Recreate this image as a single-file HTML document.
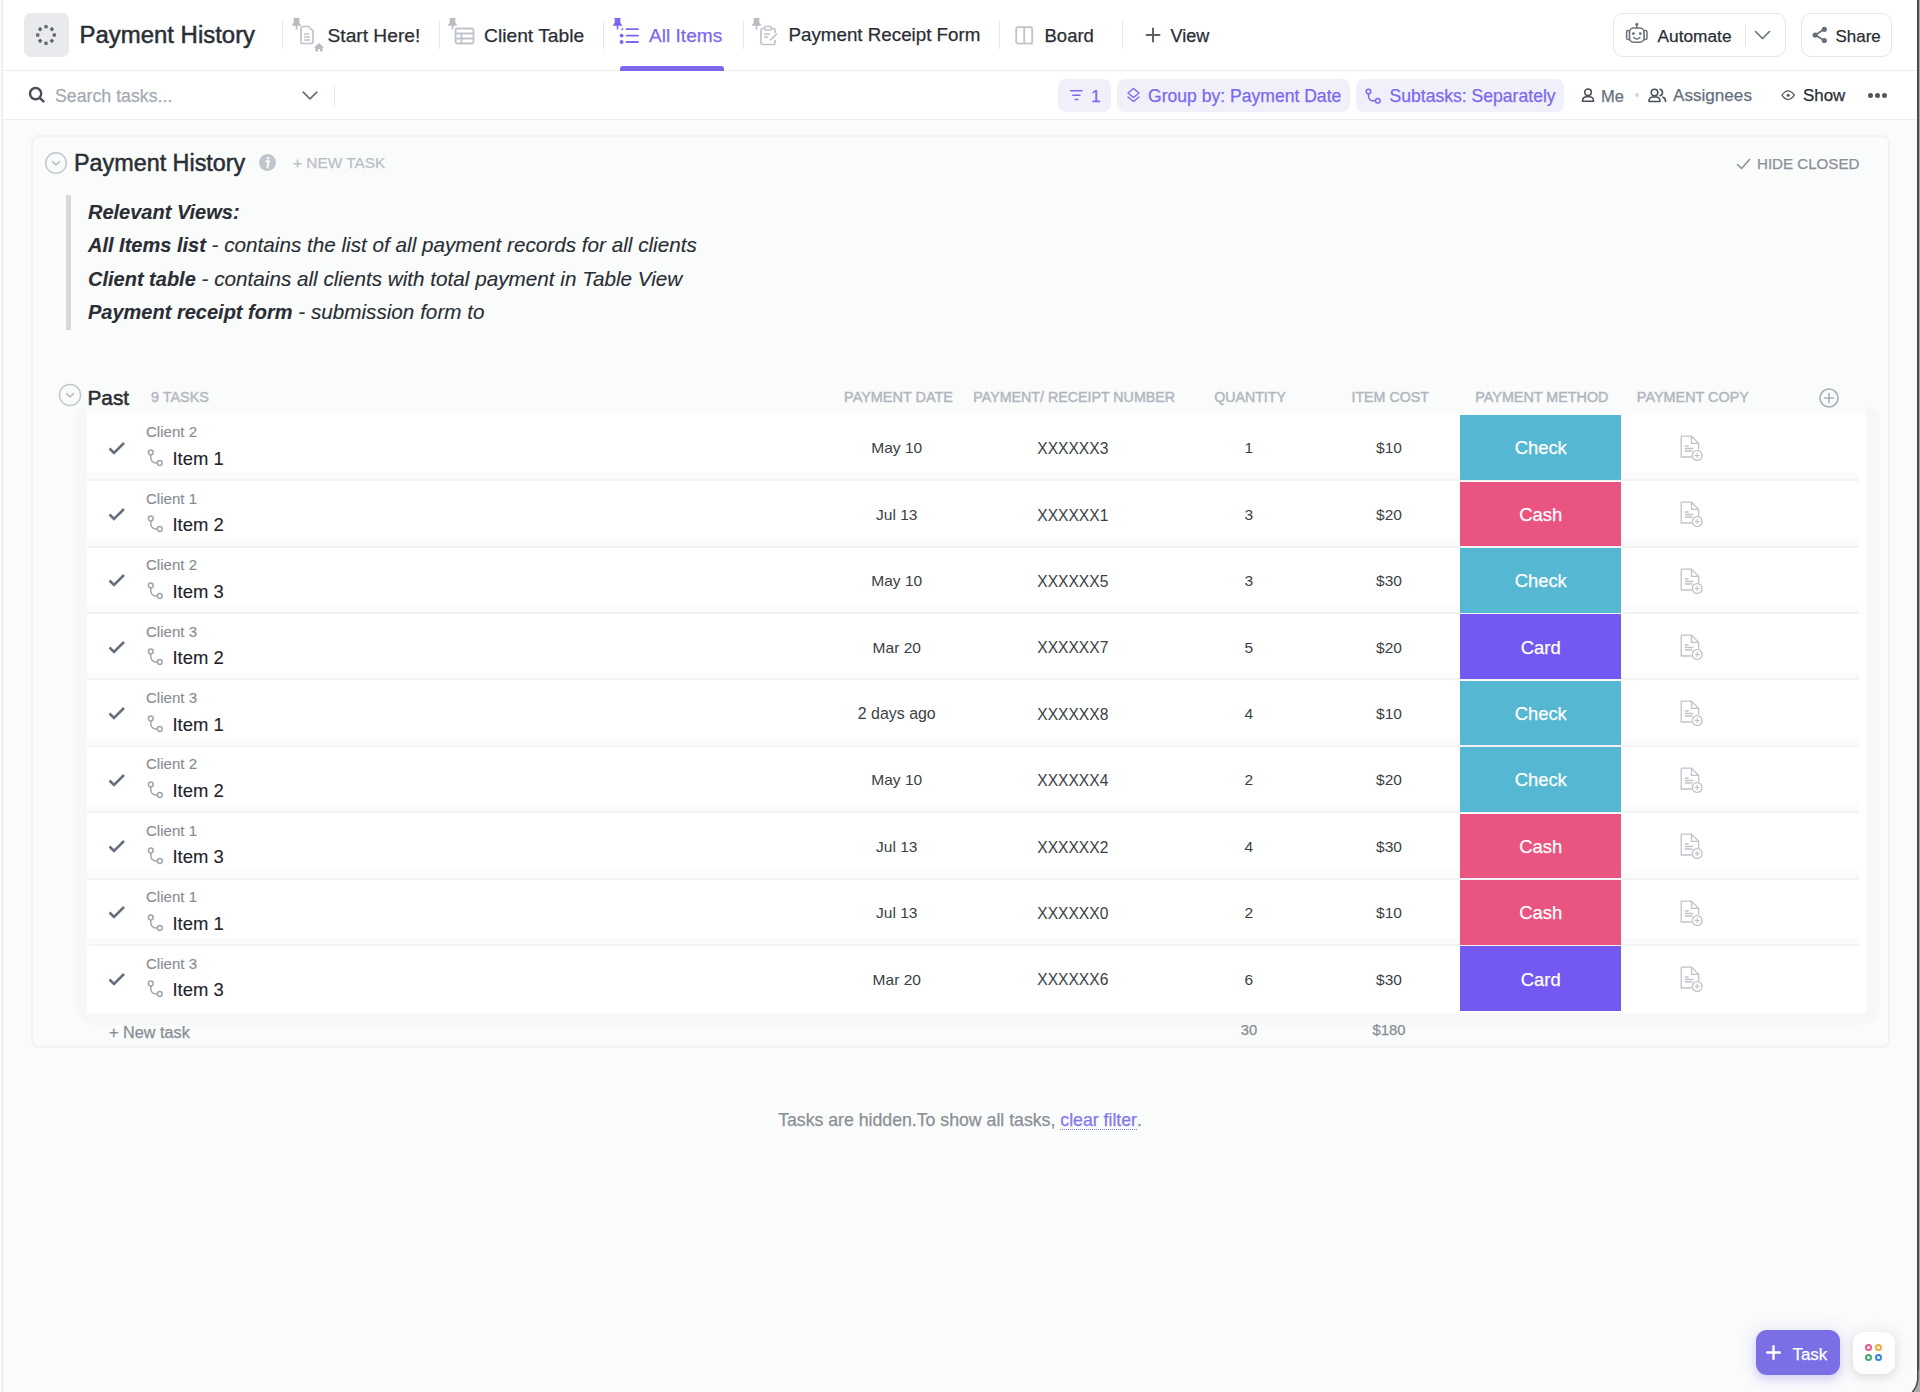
<!DOCTYPE html>
<html><head><meta charset="utf-8"><style>
html,body{margin:0;padding:0;}
body{width:1920px;height:1392px;position:relative;overflow:hidden;background:#fafbfb;font-family:"Liberation Sans", sans-serif;}
.a{position:absolute;}
.t.ns{-webkit-text-stroke:0;}
.t.s1{-webkit-text-stroke:0.12px currentColor;}
.t{position:absolute;white-space:nowrap;line-height:1;-webkit-text-stroke:0.25px currentColor;}
</style></head><body>
<div class="a" style="left:0.00px;top:0.00px;width:1920.00px;height:70.00px;background:#fff;"></div>
<div class="a" style="left:0.00px;top:70.00px;width:1920.00px;height:1.20px;background:#eceef1;"></div>
<div class="a" style="left:0.00px;top:71.20px;width:1920.00px;height:48.00px;background:#fff;"></div>
<div class="a" style="left:0.00px;top:119.00px;width:1920.00px;height:1.20px;background:#eceef1;"></div>
<div class="a" style="left:0.00px;top:0.00px;width:1.50px;height:1392.00px;background:#fff;"></div>
<div class="a" style="left:1.20px;top:0.00px;width:1.90px;height:1392.00px;background:#eceef2;"></div>
<div class="a" style="left:1917.00px;top:0.00px;width:1.50px;height:1392.00px;background:#4a4a4a;"></div>
<div class="a" style="left:1918.50px;top:0.00px;width:1.50px;height:1392.00px;background:#aaa;"></div>
<div class="a" style="left:24.00px;top:12.60px;width:44.50px;height:44.60px;background:#e9eaed;border-radius:7px;"></div>
<svg class="a" style="left:34.20px;top:22.80px;" width="24" height="24" viewBox="0 0 24 24" fill="none"><rect x="10.4" y="2.1" width="3.2" height="3.2" fill="#5f646c" transform="rotate(0 12 12)"/><rect x="10.4" y="2.1" width="3.2" height="3.2" fill="#5f646c" transform="rotate(45 12 12)"/><rect x="10.4" y="2.1" width="3.2" height="3.2" fill="#5f646c" transform="rotate(90 12 12)"/><rect x="10.4" y="2.1" width="3.2" height="3.2" fill="#5f646c" transform="rotate(135 12 12)"/><rect x="10.4" y="2.1" width="3.2" height="3.2" fill="#5f646c" transform="rotate(180 12 12)"/><rect x="10.4" y="2.1" width="3.2" height="3.2" fill="#5f646c" transform="rotate(225 12 12)"/><rect x="10.4" y="2.1" width="3.2" height="3.2" fill="#5f646c" transform="rotate(270 12 12)"/><rect x="10.4" y="2.1" width="3.2" height="3.2" fill="#5f646c" transform="rotate(315 12 12)"/></svg>
<div class="t " style="left:79.50px;top:23.33px;font-size:23.95px;color:#2a2e34;-webkit-text-stroke:0.5px #2a2e34;">Payment History</div>
<div class="a" style="left:281.70px;top:21.00px;width:1.20px;height:28.00px;background:#e4e6ea;"></div>
<div class="a" style="left:438.50px;top:21.00px;width:1.20px;height:28.00px;background:#e4e6ea;"></div>
<div class="a" style="left:602.60px;top:21.00px;width:1.20px;height:28.00px;background:#e4e6ea;"></div>
<div class="a" style="left:742.70px;top:21.00px;width:1.20px;height:28.00px;background:#e4e6ea;"></div>
<div class="a" style="left:999.00px;top:21.00px;width:1.20px;height:28.00px;background:#e4e6ea;"></div>
<div class="a" style="left:1122.00px;top:21.00px;width:1.20px;height:28.00px;background:#e4e6ea;"></div>
<svg class="a" style="left:292.00px;top:18.00px;" width="9" height="12" viewBox="0 0 9 12" fill="none"><path d="M1.5 0.5h6M2.5 0.5v4.5l-1.5 2h7l-1.5-2v-4.5M4.5 7v4.5" stroke="#b7bbc2" stroke-width="1.6" fill="#b7bbc2"/></svg>
<svg class="a" style="left:299.00px;top:25.00px;" width="17" height="20" viewBox="0 0 17 20" fill="none"><path d="M2 3.5a2 2 0 0 1 2-2h5.5l4.5 4.5v10.5a2 2 0 0 1-2 2H4a2 2 0 0 1-2-2z" stroke="#bfc3ca" stroke-width="1.7"/><path d="M5 9h5M5 12h6M5 15h6" stroke="#bfc3ca" stroke-width="1.7"/></svg>
<svg class="a" style="left:313.00px;top:42.00px;" width="12" height="10" viewBox="0 0 12 10" fill="none"><path d="M6 1L1 5.5h1.5V9.5h2.5V7h2v2.5h2.5V5.5H11z" fill="#b7bbc2"/></svg>
<div class="t " style="left:327.50px;top:25.55px;font-size:19.2px;color:#2a2e34;">Start Here!</div>
<svg class="a" style="left:448.00px;top:18.00px;" width="9" height="12" viewBox="0 0 9 12" fill="none"><path d="M1.5 0.5h6M2.5 0.5v4.5l-1.5 2h7l-1.5-2v-4.5M4.5 7v4.5" stroke="#b7bbc2" stroke-width="1.6" fill="#b7bbc2"/></svg>
<svg class="a" style="left:454.00px;top:27.00px;" width="21" height="18" viewBox="0 0 21 18" fill="none"><rect x="1.5" y="1.5" width="18" height="15" rx="2" stroke="#bfc3ca" stroke-width="1.8"/><path d="M1.5 6.5h18M1.5 11.5h18M7.5 6.5v10" stroke="#bfc3ca" stroke-width="1.8"/></svg>
<div class="t " style="left:484.00px;top:25.70px;font-size:19.25px;color:#2a2e34;">Client Table</div>
<svg class="a" style="left:613.00px;top:18.00px;" width="9" height="12" viewBox="0 0 9 12" fill="none"><path d="M1.5 0.5h6M2.5 0.5v4.5l-1.5 2h7l-1.5-2v-4.5M4.5 7v4.5" stroke="#7b68ee" stroke-width="1.6" fill="#7b68ee"/></svg>
<svg class="a" style="left:618.50px;top:26.50px;" width="21" height="18" viewBox="0 0 21 18" fill="none"><circle cx="2.6" cy="8.6" r="1.95" fill="#7b68ee"/><circle cx="2.6" cy="15" r="1.95" fill="#7b68ee"/><path d="M7.6 2.2h11.4M7.6 8.6h11.4M7.6 15h11.4" stroke="#7b68ee" stroke-width="1.8" stroke-linecap="round"/><path d="M2.3 3l2-1.4" stroke="#7b68ee" stroke-width="1.2"/></svg>
<div class="t " style="left:649.00px;top:25.83px;font-size:19.1px;color:#7b68ee;">All Items</div>
<div class="a" style="left:620.00px;top:66.00px;width:104.00px;height:4.50px;background:#7b68ee;border-radius:3px 3px 0 0;"></div>
<svg class="a" style="left:752.00px;top:18.00px;" width="9" height="12" viewBox="0 0 9 12" fill="none"><path d="M1.5 0.5h6M2.5 0.5v4.5l-1.5 2h7l-1.5-2v-4.5M4.5 7v4.5" stroke="#b7bbc2" stroke-width="1.6" fill="#b7bbc2"/></svg>
<svg class="a" style="left:759.00px;top:25.00px;" width="20" height="21" viewBox="0 0 20 21" fill="none"><path d="M13 3.5h1.5a1.5 1.5 0 0 1 1.5 1.5v3M5 3.5H3.5A1.5 1.5 0 0 0 2 5v13a1.5 1.5 0 0 0 1.5 1.5h11A1.5 1.5 0 0 0 16 18v-3" stroke="#bfc3ca" stroke-width="1.7"/><rect x="5.5" y="1.5" width="7" height="3.5" rx="1" stroke="#bfc3ca" stroke-width="1.5"/><path d="M5 9h6M5 12h4M11 15.5l7-7" stroke="#bfc3ca" stroke-width="1.7"/></svg>
<div class="t " style="left:788.50px;top:26.10px;font-size:18.78px;color:#2a2e34;">Payment Receipt Form</div>
<svg class="a" style="left:1015.00px;top:26.00px;" width="19" height="19" viewBox="0 0 19 19" fill="none"><rect x="1.2" y="1.2" width="16" height="16.5" rx="2" stroke="#bfc3ca" stroke-width="1.8"/><path d="M9.2 1.2v16.5" stroke="#bfc3ca" stroke-width="1.8"/></svg>
<div class="t " style="left:1044.50px;top:27.34px;font-size:18.5px;color:#2a2e34;">Board</div>
<svg class="a" style="left:1145.00px;top:27.00px;" width="16" height="16" viewBox="0 0 16 16" fill="none"><path d="M8 1.5v13M1.5 8h13" stroke="#5d6168" stroke-width="2" stroke-linecap="round"/></svg>
<div class="t " style="left:1170.50px;top:26.76px;font-size:18.0px;color:#2a2e34;">View</div>
<div class="a" style="left:1613.30px;top:12.80px;width:172.30px;height:43.80px;box-sizing:border-box;border:1.5px solid #e4e6ea;border-radius:10px;background:#fff;"></div>
<svg class="a" style="left:1620.00px;top:18.00px;" width="30" height="30" viewBox="0 0 30 30" fill="none"><rect x="9.5" y="10" width="14.6" height="14.2" rx="4.2" stroke="#6c7179" stroke-width="1.65"/><path d="M16.8 10V7" stroke="#6c7179" stroke-width="1.5"/><circle cx="16.8" cy="6.3" r="1.5" fill="#6c7179"/><path d="M9.5 12.5H8.2a1.6 1.6 0 0 0-1.6 1.6v5.9a1.6 1.6 0 0 0 1.6 1.6H9.5M24.1 12.5h1.3a1.6 1.6 0 0 1 1.6 1.6v5.9a1.6 1.6 0 0 1-1.6 1.6H24.1" stroke="#6c7179" stroke-width="1.5"/><circle cx="13.4" cy="15.6" r="1.45" fill="#6c7179"/><circle cx="20.3" cy="15.6" r="1.45" fill="#6c7179"/><path d="M13.8 19.4c1.6 2.2 4.4 2.2 6 0" stroke="#6c7179" stroke-width="1.5" stroke-linecap="round"/></svg>
<div class="t " style="left:1657.50px;top:28.05px;font-size:17.31px;color:#2a2e34;">Automate</div>
<div class="a" style="left:1744.50px;top:24.50px;width:1.20px;height:21.00px;background:#e4e6ea;"></div>
<svg class="a" style="left:1754.00px;top:30.00px;" width="17" height="10" viewBox="0 0 17 10" fill="none"><path d="M1.5 1.5l7 7 7-7" stroke="#656f7d" stroke-width="1.6" stroke-linecap="round" stroke-linejoin="round"/></svg>
<div class="a" style="left:1800.50px;top:12.80px;width:91.40px;height:43.80px;box-sizing:border-box;border:1.5px solid #e4e6ea;border-radius:10px;background:#fff;"></div>
<svg class="a" style="left:1812.00px;top:26.00px;" width="16" height="18" viewBox="0 0 16 18" fill="none"><circle cx="3.2" cy="9" r="2.6" fill="#656f7d"/><circle cx="12.3" cy="3.3" r="2.6" fill="#656f7d"/><circle cx="12.3" cy="14.5" r="2.6" fill="#656f7d"/><path d="M3.2 9l9-5.7M3.2 9l9 5.5" stroke="#656f7d" stroke-width="1.6"/></svg>
<div class="t " style="left:1835.50px;top:29.15px;font-size:16.95px;color:#2a2e34;">Share</div>
<svg class="a" style="left:28.00px;top:86.00px;" width="18" height="18" viewBox="0 0 18 18" fill="none"><circle cx="7.6" cy="7.6" r="5.6" stroke="#4a4f57" stroke-width="2.4"/><path d="M11.8 11.8l3.6 3.6" stroke="#4a4f57" stroke-width="2.5" stroke-linecap="round"/></svg>
<div class="t " style="left:55.00px;top:88.17px;font-size:17.75px;color:#a5aab2;">Search tasks...</div>
<svg class="a" style="left:300.50px;top:90.00px;" width="18" height="12" viewBox="0 0 18 12" fill="none"><path d="M2.2 2.2l6.8 6.6 6.8-6.6" stroke="#656f7d" stroke-width="1.7" stroke-linecap="round" stroke-linejoin="round"/></svg>
<div class="a" style="left:334.00px;top:84.50px;width:1.20px;height:21.50px;background:#e4e6ea;"></div>
<div class="a" style="left:1057.80px;top:78.50px;width:53.20px;height:33.50px;background:#f0f0fb;border-radius:8px;"></div>
<svg class="a" style="left:1069.00px;top:89.00px;" width="15" height="12" viewBox="0 0 15 12" fill="none"><path d="M1.5 1.8h11.5M3.8 6.2h7.2M6.3 10.6h2.5" stroke="#7b68ee" stroke-width="1.5" stroke-linecap="round"/></svg>
<div class="t " style="left:1091.00px;top:88.47px;font-size:17.4px;color:#7b68ee;">1</div>
<div class="a" style="left:1117.20px;top:78.50px;width:233.00px;height:33.50px;background:#f0f0fb;border-radius:8px;"></div>
<svg class="a" style="left:1126.00px;top:87.00px;" width="15" height="17" viewBox="0 0 15 17" fill="none"><path d="M7.5 1.5l5.5 4.5-5.5 4.5-5.5-4.5z" stroke="#7b68ee" stroke-width="1.45" stroke-linejoin="round"/><path d="M2 10l5.5 4.5L13 10" stroke="#7b68ee" stroke-width="1.45" stroke-linejoin="round" stroke-linecap="round"/></svg>
<div class="t " style="left:1148.00px;top:88.33px;font-size:17.57px;color:#7b68ee;">Group by: Payment Date</div>
<div class="a" style="left:1355.50px;top:78.60px;width:208.30px;height:33.20px;background:#f0f0fb;border-radius:8px;"></div>
<svg class="a" style="left:1365.00px;top:88.00px;" width="16" height="16" viewBox="0 0 16 16" fill="none"><circle cx="3.5" cy="3.5" r="2.3" stroke="#7b68ee" stroke-width="1.5"/><circle cx="12.8" cy="12.8" r="2.3" stroke="#7b68ee" stroke-width="1.5"/><path d="M3.5 5.8v2.5a4.5 4.5 0 0 0 4.5 4.5h2.5" stroke="#7b68ee" stroke-width="1.5"/></svg>
<div class="t " style="left:1389.50px;top:88.31px;font-size:17.59px;color:#7b68ee;">Subtasks: Separately</div>
<svg class="a" style="left:1581.00px;top:88.00px;" width="14" height="14" viewBox="0 0 14 14" fill="none"><circle cx="7" cy="4.3" r="3.3" stroke="#4a4f57" stroke-width="1.6"/><path d="M1.5 13.2v-0.5a4 4 0 0 1 4-4h3a4 4 0 0 1 4 4v0.5z" stroke="#4a4f57" stroke-width="1.6" stroke-linejoin="round"/></svg>
<div class="t " style="left:1601.00px;top:87.93px;font-size:16.5px;color:#656f7d;">Me</div>
<div class="a" style="left:1634.70px;top:93.40px;width:4.00px;height:4.00px;background:#d4d7dc;border-radius:50%;"></div>
<svg class="a" style="left:1648.00px;top:88.00px;" width="19" height="15" viewBox="0 0 19 15" fill="none"><circle cx="6.5" cy="4.5" r="3.3" stroke="#4a4f57" stroke-width="1.6"/><path d="M1 13.5v-0.5a4 4 0 0 1 4-4h3a4 4 0 0 1 4 4v0.5z" stroke="#4a4f57" stroke-width="1.6" stroke-linejoin="round"/><path d="M12 1.3a3.3 3.3 0 0 1 0 6.4M15 9.2a4 4 0 0 1 2.5 3.8v0.5" stroke="#4a4f57" stroke-width="1.6" stroke-linecap="round"/></svg>
<div class="t " style="left:1673.00px;top:87.42px;font-size:17.11px;color:#656f7d;">Assignees</div>
<svg class="a" style="left:1780.50px;top:89.00px;" width="15" height="13" viewBox="0 0 15 13" fill="none"><path d="M0.9 6.2Q7.1 -2.6 13.4 6.2Q7.1 15 0.9 6.2Z" stroke="#55595f" stroke-width="1.25" stroke-linejoin="round"/><circle cx="7.2" cy="6.2" r="1.55" fill="#55595f"/></svg>
<div class="t " style="left:1803.00px;top:88.09px;font-size:16.9px;color:#2a2e34;">Show</div>
<div class="a" style="left:1867.80px;top:92.80px;width:5.00px;height:5.00px;background:#52565d;border-radius:50%;"></div>
<div class="a" style="left:1874.70px;top:92.80px;width:5.00px;height:5.00px;background:#52565d;border-radius:50%;"></div>
<div class="a" style="left:1881.60px;top:92.80px;width:5.00px;height:5.00px;background:#52565d;border-radius:50%;"></div>
<div class="a" style="left:30.60px;top:135.00px;width:1859.40px;height:913.00px;box-sizing:border-box;border:2px solid #f1f2f5;border-radius:8px;background:#fafbfb;"></div>
<svg class="a" style="left:44.00px;top:151.00px;" width="24" height="24" viewBox="0 0 24 24" fill="none"><circle cx="12" cy="12" r="10.3" stroke="#c5c9cf" stroke-width="1.5"/><path d="M8.5 10.5l3.5 3.5 3.5-3.5" stroke="#b4b9c1" stroke-width="1.5" stroke-linecap="round" stroke-linejoin="round"/></svg>
<div class="t " style="left:74.00px;top:152.43px;font-size:23.35px;color:#2a2e34;-webkit-text-stroke:0.5px #2a2e34;">Payment History</div>
<svg class="a" style="left:258.00px;top:152.80px;" width="19" height="19" viewBox="0 0 19 19" fill="none"><circle cx="9.5" cy="9.5" r="8.5" fill="#c2c6cc"/><circle cx="10.2" cy="5.3" r="1.3" fill="#fff"/><path d="M8.3 8.3h2.4l-1.2 6.3" stroke="#fff" stroke-width="1.9" stroke-linecap="round"/></svg>
<div class="t " style="left:293.00px;top:155.16px;font-size:15.4px;color:#b9bec6;">+ NEW TASK</div>
<svg class="a" style="left:1735.50px;top:157.80px;" width="15" height="12" viewBox="0 0 15 12" fill="none"><path d="M1.5 6.5l4 4L13.5 1.5" stroke="#8a9099" stroke-width="1.6" stroke-linecap="round" stroke-linejoin="round"/></svg>
<div class="t " style="left:1757.00px;top:156.00px;font-size:15.12px;color:#8a9099;">HIDE CLOSED</div>
<div class="a" style="left:66.00px;top:195.00px;width:5.20px;height:134.50px;background:#d7d8dc;"></div>
<div class="t s1" style="left:88px;top:201.97px;font-size:20px;color:#2a2e34;font-style:italic;"><b>Relevant Views:</b><span style="font-size:20.7px"></span></div>
<div class="t s1" style="left:88px;top:235.37px;font-size:20px;color:#2a2e34;font-style:italic;"><b>All Items list</b><span style="font-size:20.7px"> - contains the list of all payment records for all clients</span></div>
<div class="t s1" style="left:88px;top:268.97px;font-size:20px;color:#2a2e34;font-style:italic;"><b>Client table</b><span style="font-size:20.7px"> - contains all clients with total payment in Table View</span></div>
<div class="t s1" style="left:88px;top:302.37px;font-size:20px;color:#2a2e34;font-style:italic;"><b>Payment receipt form</b><span style="font-size:20.7px"> - submission form to</span></div>
<div class="a" style="left:74.50px;top:406.00px;width:1805.00px;height:619.00px;background:#f6f7f9;border-radius:13px 13px 20px 20px;"></div>
<div class="a" style="left:86.70px;top:400.00px;width:1780.00px;height:14.90px;background:#fafbfb;"></div>
<div class="a" style="left:86.70px;top:414.90px;width:1780.00px;height:598.00px;background:#fff;"></div>
<svg class="a" style="left:58.00px;top:383.00px;" width="24" height="24" viewBox="0 0 24 24" fill="none"><circle cx="12" cy="12" r="10.6" stroke="#c5c9cf" stroke-width="1.5"/><path d="M8.5 10.5l3.5 3.5 3.5-3.5" stroke="#b4b9c1" stroke-width="1.5" stroke-linecap="round" stroke-linejoin="round"/></svg>
<div class="t " style="left:87.50px;top:387.59px;font-size:20.8px;color:#2a2e34;-webkit-text-stroke:0.55px #2a2e34;">Past</div>
<div class="t " style="left:151.00px;top:390.41px;font-size:14.4px;color:#b4b9c1;-webkit-text-stroke:0.45px #b4b9c1;">9 TASKS</div>
<div class="t " style="left:698.50px;top:389.68px;font-size:14.44px;color:#b1b6be;width:400.00px;text-align:center;-webkit-text-stroke:0.45px #b1b6be;">PAYMENT DATE</div>
<div class="t " style="left:874.20px;top:389.85px;font-size:14.24px;color:#b1b6be;width:400.00px;text-align:center;-webkit-text-stroke:0.45px #b1b6be;">PAYMENT/ RECEIPT NUMBER</div>
<div class="t " style="left:1050.10px;top:389.91px;font-size:14.16px;color:#b1b6be;width:400.00px;text-align:center;-webkit-text-stroke:0.45px #b1b6be;">QUANTITY</div>
<div class="t " style="left:1190.20px;top:389.85px;font-size:14.24px;color:#b1b6be;width:400.00px;text-align:center;-webkit-text-stroke:0.45px #b1b6be;">ITEM COST</div>
<div class="t " style="left:1341.90px;top:389.75px;font-size:14.35px;color:#b1b6be;width:400.00px;text-align:center;-webkit-text-stroke:0.45px #b1b6be;">PAYMENT METHOD</div>
<div class="t " style="left:1492.90px;top:389.70px;font-size:14.41px;color:#b1b6be;width:400.00px;text-align:center;-webkit-text-stroke:0.45px #b1b6be;">PAYMENT COPY</div>
<svg class="a" style="left:1818.00px;top:387.00px;" width="22" height="22" viewBox="0 0 22 22" fill="none"><circle cx="11" cy="11" r="9" stroke="#a9aeb6" stroke-width="1.6"/><path d="M11 6.5v9M6.5 11h9" stroke="#a9aeb6" stroke-width="1.6" stroke-linecap="round"/></svg>
<div class="a" style="left:86.70px;top:472.90px;width:1772.00px;height:6.30px;background:#fafbfb;"></div>
<div class="a" style="left:86.70px;top:479.20px;width:1772.00px;height:2.00px;background:#f2f3f5;"></div>
<svg class="a" style="left:107.00px;top:439.60px;" width="20" height="16" viewBox="0 0 20 16" fill="none"><path d="M2.5 8.5l4.5 4.5 10-10" stroke="#656f7d" stroke-width="2.6" stroke-linecap="butt" stroke-linejoin="miter"/></svg>
<div class="t s1" style="left:146.00px;top:424.36px;font-size:15.05px;color:#878c94;">Client 2</div>
<svg class="a" style="left:147.00px;top:448.90px;" width="17" height="18" viewBox="0 0 17 18" fill="none"><circle cx="3.8" cy="3.5" r="2.4" stroke="#a0a5ad" stroke-width="1.5"/><circle cx="12.8" cy="14" r="2.4" stroke="#a0a5ad" stroke-width="1.5"/><path d="M3.8 5.9v3a5 5 0 0 0 5 5h1.6" stroke="#a0a5ad" stroke-width="1.5"/></svg>
<div class="t s1" style="left:172.50px;top:450.09px;font-size:18.44px;color:#1f2329;">Item 1</div>
<div class="t ns" style="left:696.75px;top:440.45px;font-size:15.53px;color:#3b3f45;width:400.00px;text-align:center;">May 10</div>
<div class="t ns" style="left:872.80px;top:441.19px;font-size:15.6px;color:#3b3f45;width:400.00px;text-align:center;">XXXXXX3</div>
<div class="t ns" style="left:1048.90px;top:440.45px;font-size:15.53px;color:#3b3f45;width:400.00px;text-align:center;">1</div>
<div class="t ns" style="left:1189.00px;top:440.45px;font-size:15.53px;color:#3b3f45;width:400.00px;text-align:center;">$10</div>
<div class="a" style="left:1460.30px;top:415.10px;width:160.80px;height:64.70px;background:#55b7d1;"></div>
<div class="t " style="left:1340.75px;top:439.42px;font-size:18.4px;color:#fff;width:400.00px;text-align:center;">Check</div>
<svg class="a" style="left:1680.00px;top:434.70px;" width="25" height="28" viewBox="0 0 25 28" fill="none"><path d="M1.2 1.2h10.3l7.2 7.2v6.8M1.2 1.2v20.8h10.5" stroke="#bfc3c9" stroke-width="1.3" stroke-linejoin="round"/><path d="M11.5 1.2v7.2h7.2" stroke="#bfc3c9" stroke-width="1.3" stroke-linejoin="round"/><path d="M4.8 11h3.8M4.8 13.5h8.6M4.8 16h7.6" stroke="#bfc3c9" stroke-width="1.3"/><circle cx="17.2" cy="20.5" r="4.9" fill="#fff" stroke="#bfc3c9" stroke-width="1.3"/><path d="M17.2 18v5M14.7 20.5h5" stroke="#bfc3c9" stroke-width="1.2"/></svg>
<div class="a" style="left:86.70px;top:539.30px;width:1772.00px;height:6.30px;background:#fafbfb;"></div>
<div class="a" style="left:86.70px;top:545.60px;width:1772.00px;height:2.00px;background:#f2f3f5;"></div>
<svg class="a" style="left:107.00px;top:506.00px;" width="20" height="16" viewBox="0 0 20 16" fill="none"><path d="M2.5 8.5l4.5 4.5 10-10" stroke="#656f7d" stroke-width="2.6" stroke-linecap="butt" stroke-linejoin="miter"/></svg>
<div class="t s1" style="left:146.00px;top:490.76px;font-size:15.05px;color:#878c94;">Client 1</div>
<svg class="a" style="left:147.00px;top:515.30px;" width="17" height="18" viewBox="0 0 17 18" fill="none"><circle cx="3.8" cy="3.5" r="2.4" stroke="#a0a5ad" stroke-width="1.5"/><circle cx="12.8" cy="14" r="2.4" stroke="#a0a5ad" stroke-width="1.5"/><path d="M3.8 5.9v3a5 5 0 0 0 5 5h1.6" stroke="#a0a5ad" stroke-width="1.5"/></svg>
<div class="t s1" style="left:172.50px;top:516.49px;font-size:18.44px;color:#1f2329;">Item 2</div>
<div class="t ns" style="left:696.75px;top:506.85px;font-size:15.53px;color:#3b3f45;width:400.00px;text-align:center;">Jul 13</div>
<div class="t ns" style="left:872.80px;top:507.59px;font-size:15.6px;color:#3b3f45;width:400.00px;text-align:center;">XXXXXX1</div>
<div class="t ns" style="left:1048.90px;top:506.85px;font-size:15.53px;color:#3b3f45;width:400.00px;text-align:center;">3</div>
<div class="t ns" style="left:1189.00px;top:506.85px;font-size:15.53px;color:#3b3f45;width:400.00px;text-align:center;">$20</div>
<div class="a" style="left:1460.30px;top:481.50px;width:160.80px;height:64.70px;background:#ea5480;"></div>
<div class="t " style="left:1340.75px;top:505.82px;font-size:18.4px;color:#fff;width:400.00px;text-align:center;">Cash</div>
<svg class="a" style="left:1680.00px;top:501.10px;" width="25" height="28" viewBox="0 0 25 28" fill="none"><path d="M1.2 1.2h10.3l7.2 7.2v6.8M1.2 1.2v20.8h10.5" stroke="#bfc3c9" stroke-width="1.3" stroke-linejoin="round"/><path d="M11.5 1.2v7.2h7.2" stroke="#bfc3c9" stroke-width="1.3" stroke-linejoin="round"/><path d="M4.8 11h3.8M4.8 13.5h8.6M4.8 16h7.6" stroke="#bfc3c9" stroke-width="1.3"/><circle cx="17.2" cy="20.5" r="4.9" fill="#fff" stroke="#bfc3c9" stroke-width="1.3"/><path d="M17.2 18v5M14.7 20.5h5" stroke="#bfc3c9" stroke-width="1.2"/></svg>
<div class="a" style="left:86.70px;top:605.70px;width:1772.00px;height:6.30px;background:#fafbfb;"></div>
<div class="a" style="left:86.70px;top:612.00px;width:1772.00px;height:2.00px;background:#f2f3f5;"></div>
<svg class="a" style="left:107.00px;top:572.40px;" width="20" height="16" viewBox="0 0 20 16" fill="none"><path d="M2.5 8.5l4.5 4.5 10-10" stroke="#656f7d" stroke-width="2.6" stroke-linecap="butt" stroke-linejoin="miter"/></svg>
<div class="t s1" style="left:146.00px;top:557.16px;font-size:15.05px;color:#878c94;">Client 2</div>
<svg class="a" style="left:147.00px;top:581.70px;" width="17" height="18" viewBox="0 0 17 18" fill="none"><circle cx="3.8" cy="3.5" r="2.4" stroke="#a0a5ad" stroke-width="1.5"/><circle cx="12.8" cy="14" r="2.4" stroke="#a0a5ad" stroke-width="1.5"/><path d="M3.8 5.9v3a5 5 0 0 0 5 5h1.6" stroke="#a0a5ad" stroke-width="1.5"/></svg>
<div class="t s1" style="left:172.50px;top:582.89px;font-size:18.44px;color:#1f2329;">Item 3</div>
<div class="t ns" style="left:696.75px;top:573.25px;font-size:15.53px;color:#3b3f45;width:400.00px;text-align:center;">May 10</div>
<div class="t ns" style="left:872.80px;top:573.99px;font-size:15.6px;color:#3b3f45;width:400.00px;text-align:center;">XXXXXX5</div>
<div class="t ns" style="left:1048.90px;top:573.25px;font-size:15.53px;color:#3b3f45;width:400.00px;text-align:center;">3</div>
<div class="t ns" style="left:1189.00px;top:573.25px;font-size:15.53px;color:#3b3f45;width:400.00px;text-align:center;">$30</div>
<div class="a" style="left:1460.30px;top:547.90px;width:160.80px;height:64.70px;background:#55b7d1;"></div>
<div class="t " style="left:1340.75px;top:572.22px;font-size:18.4px;color:#fff;width:400.00px;text-align:center;">Check</div>
<svg class="a" style="left:1680.00px;top:567.50px;" width="25" height="28" viewBox="0 0 25 28" fill="none"><path d="M1.2 1.2h10.3l7.2 7.2v6.8M1.2 1.2v20.8h10.5" stroke="#bfc3c9" stroke-width="1.3" stroke-linejoin="round"/><path d="M11.5 1.2v7.2h7.2" stroke="#bfc3c9" stroke-width="1.3" stroke-linejoin="round"/><path d="M4.8 11h3.8M4.8 13.5h8.6M4.8 16h7.6" stroke="#bfc3c9" stroke-width="1.3"/><circle cx="17.2" cy="20.5" r="4.9" fill="#fff" stroke="#bfc3c9" stroke-width="1.3"/><path d="M17.2 18v5M14.7 20.5h5" stroke="#bfc3c9" stroke-width="1.2"/></svg>
<div class="a" style="left:86.70px;top:672.10px;width:1772.00px;height:6.30px;background:#fafbfb;"></div>
<div class="a" style="left:86.70px;top:678.40px;width:1772.00px;height:2.00px;background:#f2f3f5;"></div>
<svg class="a" style="left:107.00px;top:638.80px;" width="20" height="16" viewBox="0 0 20 16" fill="none"><path d="M2.5 8.5l4.5 4.5 10-10" stroke="#656f7d" stroke-width="2.6" stroke-linecap="butt" stroke-linejoin="miter"/></svg>
<div class="t s1" style="left:146.00px;top:623.56px;font-size:15.05px;color:#878c94;">Client 3</div>
<svg class="a" style="left:147.00px;top:648.10px;" width="17" height="18" viewBox="0 0 17 18" fill="none"><circle cx="3.8" cy="3.5" r="2.4" stroke="#a0a5ad" stroke-width="1.5"/><circle cx="12.8" cy="14" r="2.4" stroke="#a0a5ad" stroke-width="1.5"/><path d="M3.8 5.9v3a5 5 0 0 0 5 5h1.6" stroke="#a0a5ad" stroke-width="1.5"/></svg>
<div class="t s1" style="left:172.50px;top:649.29px;font-size:18.44px;color:#1f2329;">Item 2</div>
<div class="t ns" style="left:696.75px;top:639.65px;font-size:15.53px;color:#3b3f45;width:400.00px;text-align:center;">Mar 20</div>
<div class="t ns" style="left:872.80px;top:640.39px;font-size:15.6px;color:#3b3f45;width:400.00px;text-align:center;">XXXXXX7</div>
<div class="t ns" style="left:1048.90px;top:639.65px;font-size:15.53px;color:#3b3f45;width:400.00px;text-align:center;">5</div>
<div class="t ns" style="left:1189.00px;top:639.65px;font-size:15.53px;color:#3b3f45;width:400.00px;text-align:center;">$20</div>
<div class="a" style="left:1460.30px;top:614.30px;width:160.80px;height:64.70px;background:#7458f2;"></div>
<div class="t " style="left:1340.75px;top:638.62px;font-size:18.4px;color:#fff;width:400.00px;text-align:center;">Card</div>
<svg class="a" style="left:1680.00px;top:633.90px;" width="25" height="28" viewBox="0 0 25 28" fill="none"><path d="M1.2 1.2h10.3l7.2 7.2v6.8M1.2 1.2v20.8h10.5" stroke="#bfc3c9" stroke-width="1.3" stroke-linejoin="round"/><path d="M11.5 1.2v7.2h7.2" stroke="#bfc3c9" stroke-width="1.3" stroke-linejoin="round"/><path d="M4.8 11h3.8M4.8 13.5h8.6M4.8 16h7.6" stroke="#bfc3c9" stroke-width="1.3"/><circle cx="17.2" cy="20.5" r="4.9" fill="#fff" stroke="#bfc3c9" stroke-width="1.3"/><path d="M17.2 18v5M14.7 20.5h5" stroke="#bfc3c9" stroke-width="1.2"/></svg>
<div class="a" style="left:86.70px;top:738.50px;width:1772.00px;height:6.30px;background:#fafbfb;"></div>
<div class="a" style="left:86.70px;top:744.80px;width:1772.00px;height:2.00px;background:#f2f3f5;"></div>
<svg class="a" style="left:107.00px;top:705.20px;" width="20" height="16" viewBox="0 0 20 16" fill="none"><path d="M2.5 8.5l4.5 4.5 10-10" stroke="#656f7d" stroke-width="2.6" stroke-linecap="butt" stroke-linejoin="miter"/></svg>
<div class="t s1" style="left:146.00px;top:689.96px;font-size:15.05px;color:#878c94;">Client 3</div>
<svg class="a" style="left:147.00px;top:714.50px;" width="17" height="18" viewBox="0 0 17 18" fill="none"><circle cx="3.8" cy="3.5" r="2.4" stroke="#a0a5ad" stroke-width="1.5"/><circle cx="12.8" cy="14" r="2.4" stroke="#a0a5ad" stroke-width="1.5"/><path d="M3.8 5.9v3a5 5 0 0 0 5 5h1.6" stroke="#a0a5ad" stroke-width="1.5"/></svg>
<div class="t s1" style="left:172.50px;top:715.69px;font-size:18.44px;color:#1f2329;">Item 1</div>
<div class="t ns" style="left:696.75px;top:705.70px;font-size:15.95px;color:#3b3f45;width:400.00px;text-align:center;">2 days ago</div>
<div class="t ns" style="left:872.80px;top:706.79px;font-size:15.6px;color:#3b3f45;width:400.00px;text-align:center;">XXXXXX8</div>
<div class="t ns" style="left:1048.90px;top:706.05px;font-size:15.53px;color:#3b3f45;width:400.00px;text-align:center;">4</div>
<div class="t ns" style="left:1189.00px;top:706.05px;font-size:15.53px;color:#3b3f45;width:400.00px;text-align:center;">$10</div>
<div class="a" style="left:1460.30px;top:680.70px;width:160.80px;height:64.70px;background:#55b7d1;"></div>
<div class="t " style="left:1340.75px;top:705.02px;font-size:18.4px;color:#fff;width:400.00px;text-align:center;">Check</div>
<svg class="a" style="left:1680.00px;top:700.30px;" width="25" height="28" viewBox="0 0 25 28" fill="none"><path d="M1.2 1.2h10.3l7.2 7.2v6.8M1.2 1.2v20.8h10.5" stroke="#bfc3c9" stroke-width="1.3" stroke-linejoin="round"/><path d="M11.5 1.2v7.2h7.2" stroke="#bfc3c9" stroke-width="1.3" stroke-linejoin="round"/><path d="M4.8 11h3.8M4.8 13.5h8.6M4.8 16h7.6" stroke="#bfc3c9" stroke-width="1.3"/><circle cx="17.2" cy="20.5" r="4.9" fill="#fff" stroke="#bfc3c9" stroke-width="1.3"/><path d="M17.2 18v5M14.7 20.5h5" stroke="#bfc3c9" stroke-width="1.2"/></svg>
<div class="a" style="left:86.70px;top:804.90px;width:1772.00px;height:6.30px;background:#fafbfb;"></div>
<div class="a" style="left:86.70px;top:811.20px;width:1772.00px;height:2.00px;background:#f2f3f5;"></div>
<svg class="a" style="left:107.00px;top:771.60px;" width="20" height="16" viewBox="0 0 20 16" fill="none"><path d="M2.5 8.5l4.5 4.5 10-10" stroke="#656f7d" stroke-width="2.6" stroke-linecap="butt" stroke-linejoin="miter"/></svg>
<div class="t s1" style="left:146.00px;top:756.36px;font-size:15.05px;color:#878c94;">Client 2</div>
<svg class="a" style="left:147.00px;top:780.90px;" width="17" height="18" viewBox="0 0 17 18" fill="none"><circle cx="3.8" cy="3.5" r="2.4" stroke="#a0a5ad" stroke-width="1.5"/><circle cx="12.8" cy="14" r="2.4" stroke="#a0a5ad" stroke-width="1.5"/><path d="M3.8 5.9v3a5 5 0 0 0 5 5h1.6" stroke="#a0a5ad" stroke-width="1.5"/></svg>
<div class="t s1" style="left:172.50px;top:782.09px;font-size:18.44px;color:#1f2329;">Item 2</div>
<div class="t ns" style="left:696.75px;top:772.45px;font-size:15.53px;color:#3b3f45;width:400.00px;text-align:center;">May 10</div>
<div class="t ns" style="left:872.80px;top:773.19px;font-size:15.6px;color:#3b3f45;width:400.00px;text-align:center;">XXXXXX4</div>
<div class="t ns" style="left:1048.90px;top:772.45px;font-size:15.53px;color:#3b3f45;width:400.00px;text-align:center;">2</div>
<div class="t ns" style="left:1189.00px;top:772.45px;font-size:15.53px;color:#3b3f45;width:400.00px;text-align:center;">$20</div>
<div class="a" style="left:1460.30px;top:747.10px;width:160.80px;height:64.70px;background:#55b7d1;"></div>
<div class="t " style="left:1340.75px;top:771.42px;font-size:18.4px;color:#fff;width:400.00px;text-align:center;">Check</div>
<svg class="a" style="left:1680.00px;top:766.70px;" width="25" height="28" viewBox="0 0 25 28" fill="none"><path d="M1.2 1.2h10.3l7.2 7.2v6.8M1.2 1.2v20.8h10.5" stroke="#bfc3c9" stroke-width="1.3" stroke-linejoin="round"/><path d="M11.5 1.2v7.2h7.2" stroke="#bfc3c9" stroke-width="1.3" stroke-linejoin="round"/><path d="M4.8 11h3.8M4.8 13.5h8.6M4.8 16h7.6" stroke="#bfc3c9" stroke-width="1.3"/><circle cx="17.2" cy="20.5" r="4.9" fill="#fff" stroke="#bfc3c9" stroke-width="1.3"/><path d="M17.2 18v5M14.7 20.5h5" stroke="#bfc3c9" stroke-width="1.2"/></svg>
<div class="a" style="left:86.70px;top:871.30px;width:1772.00px;height:6.30px;background:#fafbfb;"></div>
<div class="a" style="left:86.70px;top:877.60px;width:1772.00px;height:2.00px;background:#f2f3f5;"></div>
<svg class="a" style="left:107.00px;top:838.00px;" width="20" height="16" viewBox="0 0 20 16" fill="none"><path d="M2.5 8.5l4.5 4.5 10-10" stroke="#656f7d" stroke-width="2.6" stroke-linecap="butt" stroke-linejoin="miter"/></svg>
<div class="t s1" style="left:146.00px;top:822.76px;font-size:15.05px;color:#878c94;">Client 1</div>
<svg class="a" style="left:147.00px;top:847.30px;" width="17" height="18" viewBox="0 0 17 18" fill="none"><circle cx="3.8" cy="3.5" r="2.4" stroke="#a0a5ad" stroke-width="1.5"/><circle cx="12.8" cy="14" r="2.4" stroke="#a0a5ad" stroke-width="1.5"/><path d="M3.8 5.9v3a5 5 0 0 0 5 5h1.6" stroke="#a0a5ad" stroke-width="1.5"/></svg>
<div class="t s1" style="left:172.50px;top:848.49px;font-size:18.44px;color:#1f2329;">Item 3</div>
<div class="t ns" style="left:696.75px;top:838.85px;font-size:15.53px;color:#3b3f45;width:400.00px;text-align:center;">Jul 13</div>
<div class="t ns" style="left:872.80px;top:839.59px;font-size:15.6px;color:#3b3f45;width:400.00px;text-align:center;">XXXXXX2</div>
<div class="t ns" style="left:1048.90px;top:838.85px;font-size:15.53px;color:#3b3f45;width:400.00px;text-align:center;">4</div>
<div class="t ns" style="left:1189.00px;top:838.85px;font-size:15.53px;color:#3b3f45;width:400.00px;text-align:center;">$30</div>
<div class="a" style="left:1460.30px;top:813.50px;width:160.80px;height:64.70px;background:#ea5480;"></div>
<div class="t " style="left:1340.75px;top:837.82px;font-size:18.4px;color:#fff;width:400.00px;text-align:center;">Cash</div>
<svg class="a" style="left:1680.00px;top:833.10px;" width="25" height="28" viewBox="0 0 25 28" fill="none"><path d="M1.2 1.2h10.3l7.2 7.2v6.8M1.2 1.2v20.8h10.5" stroke="#bfc3c9" stroke-width="1.3" stroke-linejoin="round"/><path d="M11.5 1.2v7.2h7.2" stroke="#bfc3c9" stroke-width="1.3" stroke-linejoin="round"/><path d="M4.8 11h3.8M4.8 13.5h8.6M4.8 16h7.6" stroke="#bfc3c9" stroke-width="1.3"/><circle cx="17.2" cy="20.5" r="4.9" fill="#fff" stroke="#bfc3c9" stroke-width="1.3"/><path d="M17.2 18v5M14.7 20.5h5" stroke="#bfc3c9" stroke-width="1.2"/></svg>
<div class="a" style="left:86.70px;top:937.70px;width:1772.00px;height:6.30px;background:#fafbfb;"></div>
<div class="a" style="left:86.70px;top:944.00px;width:1772.00px;height:2.00px;background:#f2f3f5;"></div>
<svg class="a" style="left:107.00px;top:904.40px;" width="20" height="16" viewBox="0 0 20 16" fill="none"><path d="M2.5 8.5l4.5 4.5 10-10" stroke="#656f7d" stroke-width="2.6" stroke-linecap="butt" stroke-linejoin="miter"/></svg>
<div class="t s1" style="left:146.00px;top:889.16px;font-size:15.05px;color:#878c94;">Client 1</div>
<svg class="a" style="left:147.00px;top:913.70px;" width="17" height="18" viewBox="0 0 17 18" fill="none"><circle cx="3.8" cy="3.5" r="2.4" stroke="#a0a5ad" stroke-width="1.5"/><circle cx="12.8" cy="14" r="2.4" stroke="#a0a5ad" stroke-width="1.5"/><path d="M3.8 5.9v3a5 5 0 0 0 5 5h1.6" stroke="#a0a5ad" stroke-width="1.5"/></svg>
<div class="t s1" style="left:172.50px;top:914.89px;font-size:18.44px;color:#1f2329;">Item 1</div>
<div class="t ns" style="left:696.75px;top:905.25px;font-size:15.53px;color:#3b3f45;width:400.00px;text-align:center;">Jul 13</div>
<div class="t ns" style="left:872.80px;top:905.99px;font-size:15.6px;color:#3b3f45;width:400.00px;text-align:center;">XXXXXX0</div>
<div class="t ns" style="left:1048.90px;top:905.25px;font-size:15.53px;color:#3b3f45;width:400.00px;text-align:center;">2</div>
<div class="t ns" style="left:1189.00px;top:905.25px;font-size:15.53px;color:#3b3f45;width:400.00px;text-align:center;">$10</div>
<div class="a" style="left:1460.30px;top:879.90px;width:160.80px;height:64.70px;background:#ea5480;"></div>
<div class="t " style="left:1340.75px;top:904.22px;font-size:18.4px;color:#fff;width:400.00px;text-align:center;">Cash</div>
<svg class="a" style="left:1680.00px;top:899.50px;" width="25" height="28" viewBox="0 0 25 28" fill="none"><path d="M1.2 1.2h10.3l7.2 7.2v6.8M1.2 1.2v20.8h10.5" stroke="#bfc3c9" stroke-width="1.3" stroke-linejoin="round"/><path d="M11.5 1.2v7.2h7.2" stroke="#bfc3c9" stroke-width="1.3" stroke-linejoin="round"/><path d="M4.8 11h3.8M4.8 13.5h8.6M4.8 16h7.6" stroke="#bfc3c9" stroke-width="1.3"/><circle cx="17.2" cy="20.5" r="4.9" fill="#fff" stroke="#bfc3c9" stroke-width="1.3"/><path d="M17.2 18v5M14.7 20.5h5" stroke="#bfc3c9" stroke-width="1.2"/></svg>
<svg class="a" style="left:107.00px;top:970.80px;" width="20" height="16" viewBox="0 0 20 16" fill="none"><path d="M2.5 8.5l4.5 4.5 10-10" stroke="#656f7d" stroke-width="2.6" stroke-linecap="butt" stroke-linejoin="miter"/></svg>
<div class="t s1" style="left:146.00px;top:955.56px;font-size:15.05px;color:#878c94;">Client 3</div>
<svg class="a" style="left:147.00px;top:980.10px;" width="17" height="18" viewBox="0 0 17 18" fill="none"><circle cx="3.8" cy="3.5" r="2.4" stroke="#a0a5ad" stroke-width="1.5"/><circle cx="12.8" cy="14" r="2.4" stroke="#a0a5ad" stroke-width="1.5"/><path d="M3.8 5.9v3a5 5 0 0 0 5 5h1.6" stroke="#a0a5ad" stroke-width="1.5"/></svg>
<div class="t s1" style="left:172.50px;top:981.29px;font-size:18.44px;color:#1f2329;">Item 3</div>
<div class="t ns" style="left:696.75px;top:971.65px;font-size:15.53px;color:#3b3f45;width:400.00px;text-align:center;">Mar 20</div>
<div class="t ns" style="left:872.80px;top:972.39px;font-size:15.6px;color:#3b3f45;width:400.00px;text-align:center;">XXXXXX6</div>
<div class="t ns" style="left:1048.90px;top:971.65px;font-size:15.53px;color:#3b3f45;width:400.00px;text-align:center;">6</div>
<div class="t ns" style="left:1189.00px;top:971.65px;font-size:15.53px;color:#3b3f45;width:400.00px;text-align:center;">$30</div>
<div class="a" style="left:1460.30px;top:946.30px;width:160.80px;height:64.70px;background:#7458f2;"></div>
<div class="t " style="left:1340.75px;top:970.62px;font-size:18.4px;color:#fff;width:400.00px;text-align:center;">Card</div>
<svg class="a" style="left:1680.00px;top:965.90px;" width="25" height="28" viewBox="0 0 25 28" fill="none"><path d="M1.2 1.2h10.3l7.2 7.2v6.8M1.2 1.2v20.8h10.5" stroke="#bfc3c9" stroke-width="1.3" stroke-linejoin="round"/><path d="M11.5 1.2v7.2h7.2" stroke="#bfc3c9" stroke-width="1.3" stroke-linejoin="round"/><path d="M4.8 11h3.8M4.8 13.5h8.6M4.8 16h7.6" stroke="#bfc3c9" stroke-width="1.3"/><circle cx="17.2" cy="20.5" r="4.9" fill="#fff" stroke="#bfc3c9" stroke-width="1.3"/><path d="M17.2 18v5M14.7 20.5h5" stroke="#bfc3c9" stroke-width="1.2"/></svg>
<div class="t " style="left:109.00px;top:1024.25px;font-size:16.24px;color:#878c94;">+ New task</div>
<div class="t " style="left:1048.90px;top:1022.97px;font-size:14.8px;color:#878c94;width:400.00px;text-align:center;">30</div>
<div class="t " style="left:1189.00px;top:1022.97px;font-size:14.8px;color:#878c94;width:400.00px;text-align:center;">$180</div>
<div class="t" style="left:0;width:1920px;text-align:center;top:1111.53px;font-size:17.69px;color:#8b8f96;">Tasks are hidden.To show all tasks, <span style="color:#8378ec;display:inline-block;position:relative;">clear filter<span style="position:absolute;left:0;right:0;top:17.6px;border-top:1.5px dotted #8378ec;"></span></span>.</div>
<div class="a" style="left:1755.60px;top:1330.40px;width:84.40px;height:44.60px;background:#7b6fe6;border-radius:11px;box-shadow:0 4px 10px rgba(123,104,238,0.28),0 0 14px 8px rgba(123,104,238,0.05);"></div>
<svg class="a" style="left:1765.00px;top:1344.00px;" width="17" height="17" viewBox="0 0 17 17" fill="none"><path d="M8.5 2.2v12.6M2.2 8.5h12.6" stroke="#fff" stroke-width="2.4" stroke-linecap="round"/></svg>
<div class="t " style="left:1792.50px;top:1346.99px;font-size:16.9px;color:#fff;">Task</div>
<div class="a" style="left:1853.00px;top:1331.50px;width:41.80px;height:42.40px;background:#fff;border-radius:11px;box-shadow:0 3px 8px rgba(0,0,0,0.09),0 0 12px 6px rgba(0,0,0,0.03);"></div>
<div class="a" style="left:1864.70px;top:1344.10px;width:7.00px;height:7.00px;box-sizing:border-box;border:2.5px solid #e8578b;border-radius:50%;"></div>
<div class="a" style="left:1875.00px;top:1344.10px;width:7.00px;height:7.00px;box-sizing:border-box;border:2.5px solid #f0a93a;border-radius:50%;"></div>
<div class="a" style="left:1864.70px;top:1354.40px;width:7.00px;height:7.00px;box-sizing:border-box;border:2.5px solid #45a86b;border-radius:50%;"></div>
<div class="a" style="left:1875.00px;top:1354.40px;width:7.00px;height:7.00px;box-sizing:border-box;border:2.5px solid #2f86dd;border-radius:50%;"></div>
<svg class="a" style="left:1890.00px;top:1360.00px;" width="30" height="32" viewBox="0 0 30 32" fill="none"><path d="M27.75 10 L27.75 19 A20.3 20.3 0 0 1 22.3 32 L30 32 L30 10 Z" fill="#aaa"/><path d="M27.75 0 L27.75 19 A20.3 20.3 0 0 1 22.3 32" stroke="#4a4a4a" stroke-width="1.5"/></svg>
</body></html>
